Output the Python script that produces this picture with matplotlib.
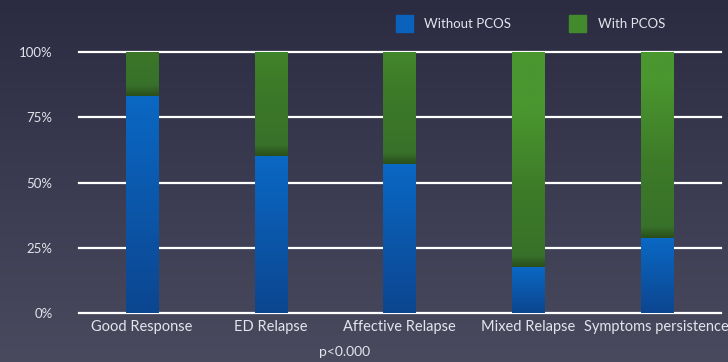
import matplotlib
matplotlib.use('Agg')
import matplotlib.pyplot as plt
import numpy as np
from matplotlib.colors import LinearSegmentedColormap

categories = ['Good Response', 'ED Relapse', 'Affective Relapse', 'Mixed Relapse', 'Symptoms persistence']
without_pcos = [83.3, 60.0, 57.1, 17.6, 28.6]
with_pcos = [16.7, 40.0, 42.9, 82.4, 71.4]
yticks = [0, 25, 50, 75, 100]
ytick_labels = ['0%', '25%', '50%', '75%', '100%']

plt.rcParams['font.family'] = ['Lato', 'DejaVu Sans']
text_color = '#e4e4ec'

fig = plt.figure(figsize=(7.28, 3.62), dpi=100)

# background gradient
bg = fig.add_axes([0, 0, 1, 1], zorder=0)
grad = np.linspace(0, 1, 256).reshape(-1, 1)
bg_cmap = LinearSegmentedColormap.from_list('bg', ['#2b2b42', '#4a4a5f'])
bg.imshow(grad, aspect='auto', cmap=bg_cmap, extent=[0, 1, 0, 1], origin='upper')
bg.axis('off')

ax = fig.add_axes([79 / 728, 1 - 313 / 362, 642 / 728, 261 / 362], zorder=1)
ax.patch.set_alpha(0)
x = np.arange(len(categories))

for t in yticks:
    ax.axhline(t, color='white', linewidth=1.6, zorder=1, clip_on=False)

width = 0.25
blue_cmap = LinearSegmentedColormap.from_list('b', ['#0c4690', '#0a68c4'])
green_cmap = LinearSegmentedColormap.from_list('g', [(0, '#2a4f1c'), (0.06, '#37702a'), (0.5, '#3d7a28'), (1, '#4a962f')])

bars_b = ax.bar(x, without_pcos, width, color='#0a62bc', linewidth=0, zorder=2)
bars_g = ax.bar(x, with_pcos, width, bottom=without_pcos, color='#428a2b', linewidth=0, zorder=2)

# vertical gradients clipped to each bar
for bar in bars_b:
    x0, y0, h = bar.get_x(), bar.get_y(), bar.get_height()
    im = ax.imshow(np.linspace(0, 1, 100).reshape(-1, 1), cmap=blue_cmap, aspect='auto',
                   extent=[x0, x0 + width, y0, y0 + h], origin='lower', zorder=3)
    im.set_clip_path(bar)
for bar in bars_g:
    x0, y0, h = bar.get_x(), bar.get_y(), bar.get_height()
    # dark shadow band just above the blue segment, then lighter toward the top
    pos = np.linspace(y0, y0 + h, 200)
    shade = np.clip((pos - y0) / 60.0, 0, 1)
    shade = np.where(pos - y0 < 4, (pos - y0) / 4 * 0.06, 0.06 + shade * 0.94)
    im = ax.imshow(shade.reshape(-1, 1), cmap=green_cmap, aspect='auto', vmin=0, vmax=1,
                   extent=[x0, x0 + width, y0, y0 + h], origin='lower', zorder=3)
    im.set_clip_path(bar)
ax.set_xlim(-0.49, len(categories) - 0.5)
ax.set_ylim(0, 100)

for s in ax.spines.values():
    s.set_visible(False)
ax.set_xticks(x)
ax.set_xticklabels(categories, fontsize=10.5, color=text_color)
ax.set_yticks(yticks)
ax.set_yticklabels(ytick_labels, fontsize=9.5, color=text_color)
ax.tick_params(length=0)
ax.tick_params(axis='x', pad=5)
ax.tick_params(axis='y', pad=19)

# legend
fig.patches.append(plt.Rectangle((396 / 728, 1 - 32 / 362), 17 / 728, 17 / 362,
                                 transform=fig.transFigure, color='#0a62bc', figure=fig))
fig.text(424 / 728, 1 - 24 / 362, 'Without PCOS', fontsize=9.5, color=text_color, va='center')
fig.patches.append(plt.Rectangle((569 / 728, 1 - 32 / 362), 17 / 728, 17 / 362,
                                 transform=fig.transFigure, color='#428a2b', figure=fig))
fig.text(598 / 728, 1 - 24 / 362, 'With PCOS', fontsize=9.5, color=text_color, va='center')

fig.text(345 / 728, 1 - 352 / 362, 'p<0.000', fontsize=10, color=text_color, ha='center', va='center')

fig.savefig('out.png', dpi=100)
